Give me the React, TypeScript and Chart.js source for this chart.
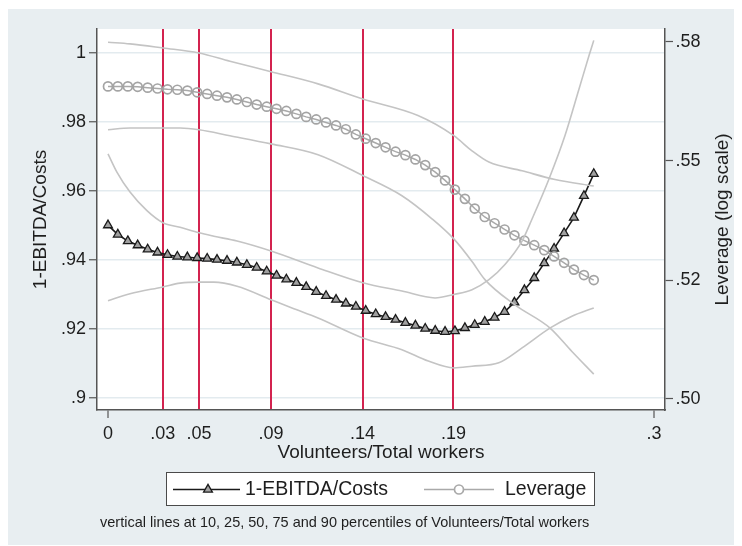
import React, { useEffect, useRef } from "react";
import { Chart, registerables } from "chart.js";

Chart.register(...registerables);

const FONT = '"Liberation Sans", Arial, Helvetica, sans-serif';

// x grid of the fitted curves (Volunteers/Total workers)
const xGrid = [
  0, 0.0054, 0.0109, 0.0163, 0.0218, 0.0272, 0.0327, 0.0381, 0.0436, 0.049,
  0.0545, 0.0599, 0.0654, 0.0708, 0.0763, 0.0817, 0.0872, 0.0926, 0.098, 0.1035,
  0.1089, 0.1144, 0.1198, 0.1253, 0.1307, 0.1362, 0.1416, 0.1471, 0.1525, 0.158,
  0.1634, 0.1689, 0.1743, 0.1798, 0.1852, 0.1906, 0.1961, 0.2015, 0.207, 0.2124,
  0.2179, 0.2233, 0.2288, 0.2342, 0.2397, 0.2451, 0.2506, 0.256, 0.2615, 0.2669,
];

// 1-EBITDA/Costs (left axis)
const ebitda = [
  0.9501, 0.9474, 0.9455, 0.9443, 0.9431, 0.9422, 0.9415, 0.941, 0.9408, 0.9406,
  0.9404, 0.9401, 0.9398, 0.9393, 0.9386, 0.9378, 0.9367, 0.9355, 0.9344, 0.9334,
  0.9322, 0.9308, 0.9296, 0.9285, 0.9274, 0.9265, 0.9253, 0.9243, 0.9235, 0.9227,
  0.9218, 0.921, 0.9201, 0.9195, 0.9192, 0.9194, 0.9203, 0.9212, 0.9221, 0.9233,
  0.925, 0.9277, 0.9313, 0.9348, 0.9391, 0.9433, 0.9478, 0.9523, 0.9586, 0.965,
];

// Leverage (right axis, log scale)
const leverage = [
  0.5662, 0.5662, 0.5662, 0.5661, 0.5659, 0.5657, 0.5655, 0.5654, 0.5652, 0.5648,
  0.5644, 0.564, 0.5636, 0.5631, 0.5625, 0.5619, 0.5614, 0.5609, 0.5604, 0.5597,
  0.559, 0.5584, 0.5577, 0.557, 0.5561, 0.5549, 0.5539, 0.5529, 0.5519, 0.5509,
  0.5501, 0.5491, 0.5478, 0.5462, 0.5443, 0.5422, 0.5401, 0.5379, 0.536, 0.5346,
  0.5332, 0.5319, 0.5307, 0.5297, 0.5286, 0.5272, 0.5258, 0.5243, 0.5231, 0.522,
];

// confidence bands
const ebitdaUpperX = [0, 0.0049, 0.0121, 0.0214, 0.0302, 0.0396, 0.05, 0.0582, 0.0709, 0.0896, 0.1154, 0.14, 0.1615, 0.1797, 0.19, 0.2, 0.2093, 0.2181, 0.2275, 0.233, 0.2423, 0.2511, 0.2588, 0.2643, 0.2669];
const ebitdaUpper = [0.9708, 0.9655, 0.9597, 0.9543, 0.9508, 0.9495, 0.9479, 0.9469, 0.9455, 0.9426, 0.9377, 0.9334, 0.931, 0.929, 0.93, 0.9314, 0.9343, 0.9387, 0.9455, 0.9519, 0.9635, 0.9761, 0.9896, 0.9993, 1.0037];
const ebitdaLowerX = [0, 0.0121, 0.0302, 0.0396, 0.05, 0.0582, 0.0709, 0.0896, 0.1011, 0.1154, 0.14, 0.1615, 0.176, 0.19, 0.2, 0.2147, 0.2275, 0.243, 0.2549, 0.2669];
const ebitdaLower = [0.9282, 0.9302, 0.9322, 0.9333, 0.9336, 0.9336, 0.9324, 0.9285, 0.9261, 0.9232, 0.9174, 0.914, 0.9107, 0.9087, 0.9092, 0.9102, 0.9145, 0.9203, 0.9237, 0.9261];
const levUpperX = [0, 0.0121, 0.0302, 0.05, 0.067, 0.0896, 0.1154, 0.14, 0.1703, 0.19, 0.2, 0.2093, 0.2275, 0.2456, 0.2669];
const levUpper = [0.5768, 0.5764, 0.5754, 0.5742, 0.5722, 0.5697, 0.5668, 0.5632, 0.5593, 0.5546, 0.5511, 0.5485, 0.5465, 0.5445, 0.543];
const levLowerX = [0, 0.0121, 0.0302, 0.0396, 0.05, 0.067, 0.0896, 0.1154, 0.14, 0.1615, 0.178, 0.19, 0.2, 0.2071, 0.2236, 0.2429, 0.2549, 0.2669];
const levLower = [0.556, 0.5564, 0.5564, 0.5564, 0.556, 0.5546, 0.5527, 0.5502, 0.5454, 0.5408, 0.5356, 0.5311, 0.5261, 0.5221, 0.5166, 0.5116, 0.5066, 0.5018];

// percentiles (10, 25, 50, 75, 90) and axis ticks
const percentiles = [0.0301, 0.05, 0.0896, 0.1399, 0.1898];
const xTickValues = [0, 0.0301, 0.05, 0.0896, 0.1399, 0.1898, 0.3];
const xTickLabels = ["0", ".03", ".05", ".09", ".14", ".19", ".3"];
const leftTickValues = [0.9, 0.92, 0.94, 0.96, 0.98, 1];
const leftTickLabels = [".9", ".92", ".94", ".96", ".98", "1"];
const rightTickValues = [0.4966, 0.522, 0.5488, 0.5769];
const rightTickLabels = [".50", ".52", ".55", ".58"];

const zip = (xs: number[], ys: number[]) => xs.map((x, i) => ({ x, y: ys[i] }));

const BAND = "#c4c4c4";
const RED = "#d3234f";
const AXIS = "#555555";
const TEXT = "#1e1e1e";

function drawTriangle(ctx: CanvasRenderingContext2D, x: number, y: number, r: number) {
  ctx.beginPath();
  for (let k = 0; k < 3; k++) {
    const a = (k * 2 * Math.PI) / 3;
    const px = x + Math.sin(a) * r;
    const py = y - Math.cos(a) * r;
    if (k === 0) ctx.moveTo(px, py);
    else ctx.lineTo(px, py);
  }
  ctx.closePath();
}

const backgroundPlugin = {
  id: "bgPlugin",
  beforeDraw(chart: any) {
    const { ctx, chartArea: a, width, height } = chart;
    ctx.save();
    ctx.fillStyle = "#e8eef1";
    ctx.fillRect(0, 1, width, height - 2);
    ctx.fillStyle = "#ffffff";
    ctx.fillRect(a.left, a.top, a.right - a.left, a.bottom - a.top);
    ctx.restore();
  },
};

const overlayPlugin = {
  id: "overlayPlugin",
  afterDraw(chart: any) {
    const { ctx, chartArea: a } = chart;
    const cy = (a.top + a.bottom) / 2;
    ctx.save();
    ctx.fillStyle = TEXT;
    ctx.font = `19px ${FONT}`;
    ctx.textBaseline = "middle";
    ctx.textAlign = "center";
    // x title
    ctx.fillText("Volunteers/Total workers", (a.left + a.right) / 2, 445);
    // left title
    ctx.save();
    ctx.translate(32.5, cy);
    ctx.rotate(-Math.PI / 2);
    ctx.fillText("1-EBITDA/Costs", 0, 0);
    ctx.restore();
    // right title
    ctx.save();
    ctx.translate(714.5, cy);
    ctx.rotate(-Math.PI / 2);
    ctx.fillText("Leverage (log scale)", 0, 0);
    ctx.restore();

    // legend box
    ctx.fillStyle = "#ffffff";
    ctx.fillRect(158, 464, 429, 34);
    ctx.strokeStyle = "#4a4a4a";
    ctx.lineWidth = 1;
    ctx.strokeRect(158.5, 464.5, 428, 33);
    const ly = 481.5;
    // entry 1
    ctx.strokeStyle = "#1a1a1a";
    ctx.lineWidth = 1.6;
    ctx.beginPath();
    ctx.moveTo(165, ly);
    ctx.lineTo(232, ly);
    ctx.stroke();
    drawTriangle(ctx, 200, ly, 5.1);
    ctx.fillStyle = "#a0a0a0";
    ctx.fill();
    ctx.lineWidth = 1.3;
    ctx.stroke();
    // entry 2
    ctx.strokeStyle = "#a9a9a9";
    ctx.lineWidth = 1.6;
    ctx.beginPath();
    ctx.moveTo(416, ly);
    ctx.lineTo(486, ly);
    ctx.stroke();
    ctx.beginPath();
    ctx.arc(451, ly, 4.5, 0, Math.PI * 2);
    ctx.fillStyle = "#ffffff";
    ctx.fill();
    ctx.lineWidth = 1.7;
    ctx.stroke();
    ctx.fillStyle = TEXT;
    ctx.textAlign = "left";
    ctx.font = `19.5px ${FONT}`;
    ctx.fillText("1-EBITDA/Costs", 237, ly);
    ctx.fillText("Leverage", 497, ly);

    // note
    ctx.font = `14.5px ${FONT}`;
    ctx.fillText("vertical lines at 10, 25, 50, 75 and 90 percentiles of Volunteers/Total workers", 92, 515);
    ctx.restore();
  },
};

export default function App() {
  const ref = useRef<HTMLCanvasElement | null>(null);

  useEffect(() => {
    if (!ref.current) return;
    const isPct = (v: number) => percentiles.some((p) => Math.abs(p - v) < 1e-9);
    const tickFont = { family: FONT, size: 18 };

    const band = (label: string, data: any, axis: string) => ({
      label,
      data,
      yAxisID: axis,
      borderColor: BAND,
      borderWidth: 1.6,
      pointRadius: 0,
      cubicInterpolationMode: "monotone",
      fill: false,
    });

    const chart = new Chart(ref.current, {
      type: "line",
      data: {
        datasets: [
          band("EBITDA upper", zip(ebitdaUpperX, ebitdaUpper), "y"),
          band("EBITDA lower", zip(ebitdaLowerX, ebitdaLower), "y"),
          band("Leverage upper", zip(levUpperX, levUpper), "y1"),
          band("Leverage lower", zip(levLowerX, levLower), "y1"),
          {
            label: "Leverage",
            data: zip(xGrid, leverage),
            yAxisID: "y1",
            borderColor: "#a9a9a9",
            borderWidth: 1.5,
            pointStyle: "circle",
            pointRadius: 4.5,
            pointBorderWidth: 1.7,
            pointBorderColor: "#a4a4a4",
            pointBackgroundColor: "rgba(255,255,255,0)",
            fill: false,
          },
          {
            label: "1-EBITDA/Costs",
            data: zip(xGrid, ebitda),
            yAxisID: "y",
            borderColor: "#1a1a1a",
            borderWidth: 1.6,
            pointStyle: "triangle",
            pointRadius: 5.1,
            pointBorderWidth: 1.3,
            pointBorderColor: "#1a1a1a",
            pointBackgroundColor: "#a0a0a0",
            fill: false,
          },
        ],
      },
      options: {
        animation: false,
        responsive: false,
        maintainAspectRatio: false,
        events: [],
        layout: { padding: { left: 0, right: 0, top: 21, bottom: 76 } },
        plugins: {
          legend: { display: false },
          tooltip: { enabled: false },
          title: { display: false },
        },
        scales: {
          y: {
            type: "linear",
            position: "left",
            min: 0.8965,
            max: 1.007,
            afterBuildTicks: (s: any) => {
              s.ticks = leftTickValues.map((v) => ({ value: v }));
            },
            afterFit: (s: any) => {
              s.width = 89;
            },
            ticks: {
              callback: (_v: any, i: number) => leftTickLabels[i],
              font: tickFont,
              color: TEXT,
              padding: 3,
            },
            grid: {
              color: "#e3ebef",
              lineWidth: 1.5,
              tickColor: AXIS,
              tickLength: 8,
              tickWidth: 1.2,
              z: -2,
            },
            border: { color: AXIS, width: 1.5 },
          },
          y1: {
            type: "logarithmic",
            position: "right",
            min: 0.4943,
            max: 0.58,
            afterBuildTicks: (s: any) => {
              s.ticks = rightTickValues.map((v) => ({ value: v }));
            },
            afterFit: (s: any) => {
              s.width = 77;
            },
            ticks: {
              callback: (_v: any, i: number) => rightTickLabels[i],
              font: tickFont,
              color: TEXT,
              padding: 2.5,
            },
            grid: {
              drawOnChartArea: false,
              tickColor: AXIS,
              tickLength: 8,
              tickWidth: 1.2,
            },
            border: { color: AXIS, width: 1.5 },
          },
          x: {
            type: "linear",
            position: "bottom",
            min: -0.00604,
            max: 0.30604,
            afterBuildTicks: (s: any) => {
              s.ticks = xTickValues.map((v) => ({ value: v }));
            },
            afterFit: (s: any) => {
              s.height = 60;
            },
            ticks: {
              callback: (_v: any, i: number) => xTickLabels[i],
              font: tickFont,
              color: TEXT,
              padding: 5,
              autoSkip: false,
              maxRotation: 0,
              minRotation: 0,
            },
            grid: {
              color: (c: any) => (c.tick && isPct(c.tick.value) ? RED : "rgba(0,0,0,0)"),
              lineWidth: 2,
              tickColor: (c: any) => (c.tick && isPct(c.tick.value) ? "rgba(0,0,0,0)" : AXIS),
              tickWidth: 1.2,
              tickLength: 8,
              z: -1,
            },
            border: { color: AXIS, width: 1.5 },
          },
        },
      } as any,
      plugins: [backgroundPlugin, overlayPlugin],
    } as any);

    return () => chart.destroy();
  }, []);

  return (
    <div style={{ width: 734, height: 538 }}>
      <canvas ref={ref} width={734} height={538} style={{ display: "block", width: 734, height: 538 }} />
    </div>
  );
}
